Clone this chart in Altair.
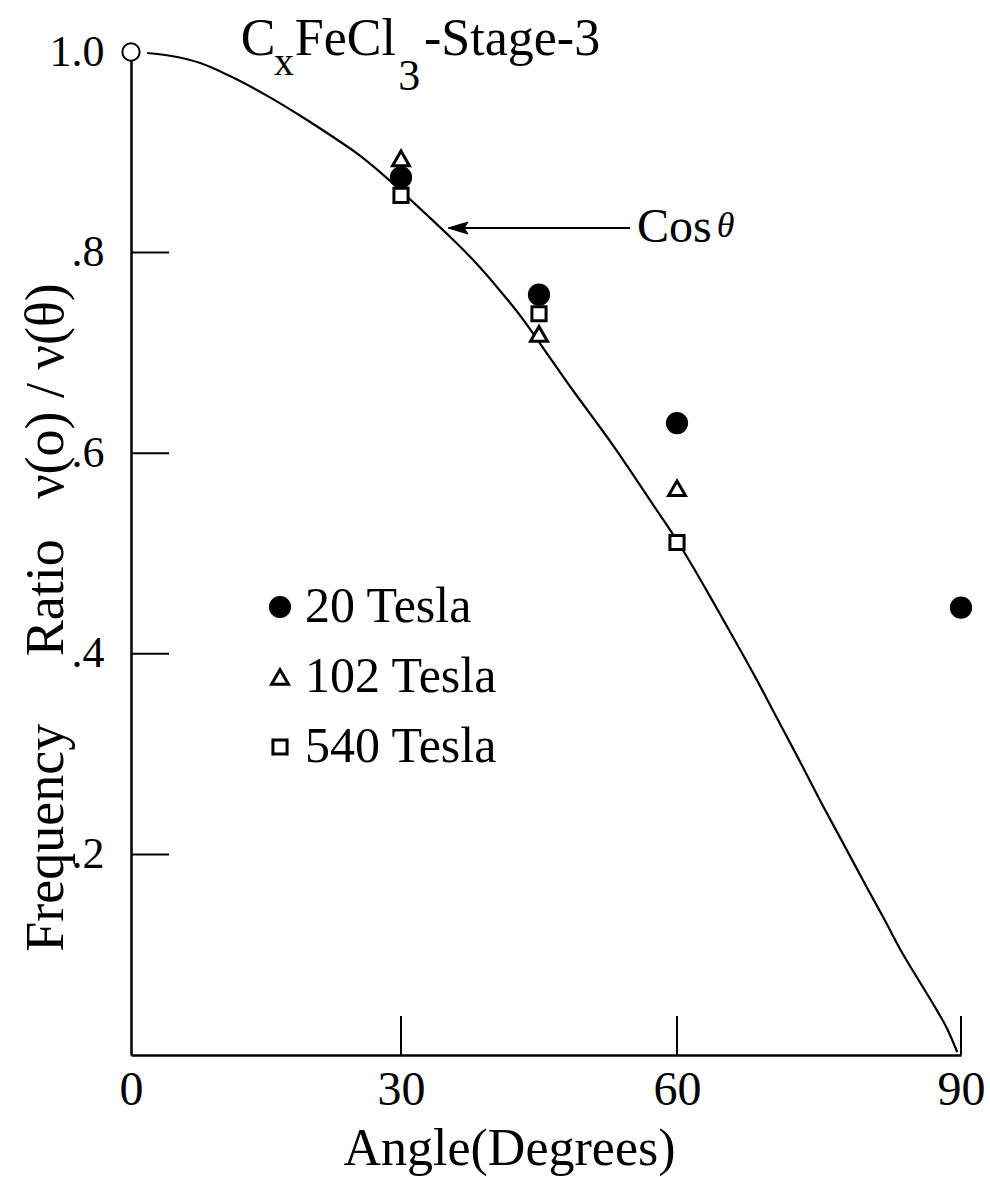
import altair as alt
import pandas as pd

# ---- data ----
curve_angle = [1.8, 4.5, 7.7, 11, 15, 19.6, 22.5, 25.4, 29.1, 31, 33, 35.3, 37.8, 40.4,
               43.3, 46.2, 48.5, 50.9, 52.8, 54.6, 57.3, 60, 61.6, 63.8, 65.9, 68.2,
               70.5, 72.8, 75.1, 77.5, 80, 81.8, 83.6, 85.5, 87.3, 88.6, 89.6]
curve_ratio = [0.999, 0.996, 0.989, 0.976, 0.957, 0.932, 0.915, 0.897, 0.869, 0.853,
               0.836, 0.816, 0.793, 0.766, 0.733, 0.695, 0.665, 0.635, 0.611, 0.587,
               0.550, 0.513, 0.488, 0.452, 0.417, 0.378, 0.337, 0.296, 0.254, 0.212,
               0.168, 0.137, 0.105, 0.075, 0.047, 0.025, 0.003]

series_names = ["20 Tesla", "102 Tesla", "540 Tesla"]
angle_20 = [30, 45, 60, 90]
ratio_20 = [0.875, 0.758, 0.630, 0.446]
angle_102 = [30, 45, 60]
ratio_102 = [0.894, 0.719, 0.565]
angle_540 = [30, 45, 60]
ratio_540 = [0.857, 0.739, 0.511]

ref_angle = [0]
ref_ratio = [1.0]

x_tick_values = [0, 30, 60, 90]
y_tick_values = [0.2, 0.4, 0.6, 0.8, 1.0]
y_inner_ticks = [0.2, 0.4, 0.6, 0.8]
x_inner_ticks = [30, 60, 90]

title_text = ["C", "x", "FeCl", "3", "-Stage-3"]
title_angle = [12.2, 15.9, 18.2, 29.7, 32.5]
title_ratio = [0.997, 0.977, 0.997, 0.962, 0.997]
title_size = [52, 40, 52, 44, 52]

cos_text = ["Cos"]
cos_angle = [55.65]
cos_ratio = [0.8106]
theta_text = ["θ"]
theta_angle = [64.2]
theta_ratio = [0.8156]

arrow_angle = [36.2]
arrow_end_angle = [54.9]
arrow_ratio = [0.8245]

# ---- tables ----
points = pd.DataFrame({
    "angle": angle_20 + angle_102 + angle_540,
    "ratio": ratio_20 + ratio_102 + ratio_540,
    "series": [series_names[0]] * len(angle_20) + [series_names[1]] * len(angle_102)
              + [series_names[2]] * len(angle_540),
})
curve = pd.DataFrame({"angle": curve_angle, "ratio": curve_ratio})
ref = pd.DataFrame({"angle": ref_angle, "ratio": ref_ratio})
yt = pd.DataFrame({"ratio": y_inner_ticks})
xt = pd.DataFrame({"angle": x_inner_ticks})
titles = pd.DataFrame({"t": title_text, "angle": title_angle, "ratio": title_ratio, "fs": title_size})
cosdf = pd.DataFrame({"t": cos_text, "angle": cos_angle, "ratio": cos_ratio})
thetadf = pd.DataFrame({"t": theta_text, "angle": theta_angle, "ratio": theta_ratio})
arrow = pd.DataFrame({"angle": arrow_angle, "angle2": arrow_end_angle, "ratio": arrow_ratio})

W, H = 830, 1003
FONT = "Liberation Serif"

xs = alt.Scale(domain=[0, 30, 60, 90], range=[0, 270, 546, 830], nice=False, zero=False)
ys = alt.Scale(domain=[0, 1], nice=False, zero=False)

x_axis = alt.Axis(values=x_tick_values, format="d", ticks=False, tickSize=0, grid=False,
                  labelFont=FONT, labelFontSize=48, labelPadding=11, labelColor="black",
                  labelFlush=False, labelOverlap=False,
                  domainColor="black", domainWidth=2.5,
                  title="Angle(Degrees)", titleFont=FONT, titleFontSize=52,
                  titleFontWeight="normal", titleColor="black", titleX=378, titleY=109,
                  titleAlign="center", titleBaseline="alphabetic")
y_title = "Frequency" + "\u00a0" * 5 + "Ratio" + "\u00a0" * 3 + "ν(o) / ν(θ)"
y_axis = alt.Axis(values=y_tick_values,
                  labelExpr="datum.value >= 1 ? '1.0' : '.' + format(datum.value*10, 'd')",
                  ticks=False, tickSize=0, grid=False,
                  labelFont=FONT, labelFontSize=44, labelPadding=27, labelColor="black",
                  labelFlush=False, labelOverlap=False,
                  domainColor="black", domainWidth=2.5,
                  title=y_title, titleFont=FONT, titleFontSize=54, titleFontWeight="normal",
                  titleColor="black", titleAngle=270, titleX=-69, titleY=565,
                  titleAlign="center", titleBaseline="alphabetic")

X = alt.X("angle:Q", scale=xs, axis=x_axis)
Y = alt.Y("ratio:Q", scale=ys, axis=y_axis)

leg = alt.Legend(orient="none", legendX=124, legendY=530, title=None, padding=0,
                 labelFont=FONT, labelFontSize=50, labelColor="black", labelOffset=0,
                 labelLimit=0, rowPadding=20, symbolStrokeColor="black",
                 symbolStrokeWidth=3)

curve_layer = alt.Chart(curve).mark_line(color="black", strokeWidth=2.2,
                                         interpolate="monotone").encode(x=X, y=Y)

ytick_layer = alt.Chart(yt).mark_rule(color="black", strokeWidth=2).encode(
    y=Y, x=alt.value(0), x2=alt.value(38))
xtick_layer = alt.Chart(xt).mark_rule(color="black", strokeWidth=2).encode(
    x=X, y=alt.value(H), y2=alt.value(H - 39))

pts_layer = alt.Chart(points).mark_point(filled=True, strokeWidth=3, opacity=1).encode(
    x=X, y=Y,
    shape=alt.Shape("series:N", scale=alt.Scale(domain=series_names,
                                                range=["circle", "triangle-up", "square"]),
                    legend=leg),
    fill=alt.Fill("series:N", scale=alt.Scale(domain=series_names,
                                              range=["black", "white", "white"]),
                  legend=leg),
    stroke=alt.Stroke("series:N", scale=alt.Scale(domain=series_names,
                                                  range=["black", "black", "black"]),
                      legend=leg),
    size=alt.Size("series:N", scale=alt.Scale(domain=series_names, range=[370, 200, 380]),
                  legend=leg),
)

ref_layer = alt.Chart(ref).mark_point(shape="circle", filled=True, fill="white",
                                      stroke="black", strokeWidth=2, size=300,
                                      opacity=1).encode(x=X, y=Y)

arrow_line = alt.Chart(arrow).mark_rule(color="black", strokeWidth=2).encode(
    x=X, x2="angle2:Q", y=Y)
arrow_head = alt.Chart(arrow).mark_point(shape="M -1 0 L 1 -0.6 L 0.6 0 L 1 0.6 Z",
                                         filled=True, fill="black", stroke="black",
                                         strokeWidth=1, size=400, opacity=1).encode(x=X, y=Y)

title_layer = alt.Chart(titles).mark_text(font=FONT, align="left", baseline="alphabetic",
                                          color="black").encode(
    x=X, y=Y, text="t:N", size=alt.Size("fs:Q", scale=None))
cos_layer = alt.Chart(cosdf).mark_text(font=FONT, fontSize=48, align="left",
                                       baseline="alphabetic", color="black").encode(
    x=X, y=Y, text="t:N")
theta_layer = alt.Chart(thetadf).mark_text(font=FONT, fontSize=36, fontStyle="italic",
                                           align="left", baseline="alphabetic",
                                           color="black").encode(x=X, y=Y, text="t:N")

chart = alt.layer(
    curve_layer, ytick_layer, xtick_layer, arrow_line, arrow_head, pts_layer, ref_layer,
    title_layer, cos_layer, theta_layer
).properties(
    width=W, height=H,
    autosize=alt.AutoSizeParams(type="none"),
    padding={"left": 131, "top": 52, "right": 29, "bottom": 122},
    background="white",
).configure_view(stroke="transparent")

chart.save("out.html", embed_options={"renderer": "svg", "actions": False})
